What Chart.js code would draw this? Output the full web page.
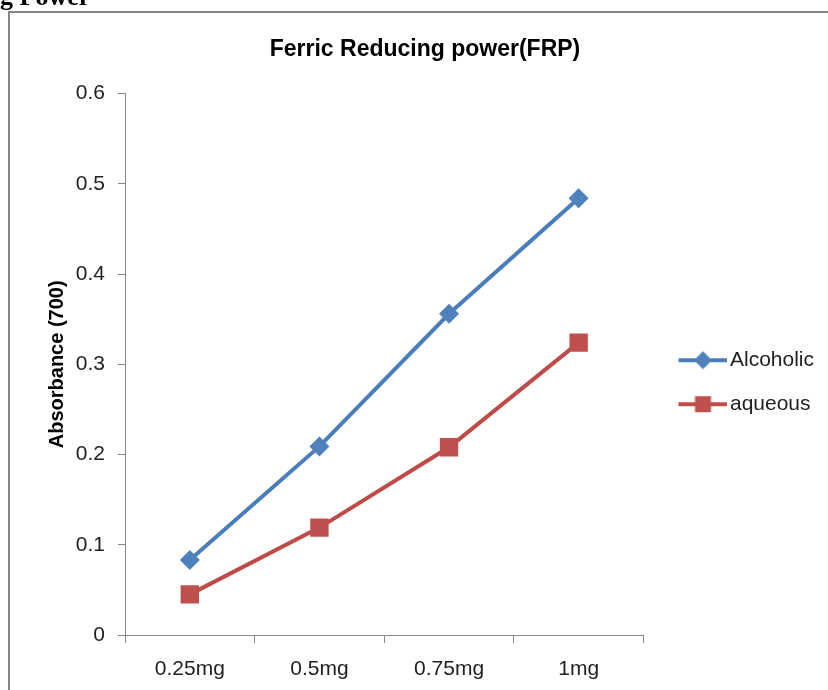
<!DOCTYPE html>
<html>
<head>
<meta charset="utf-8">
<script src="https://cdn.jsdelivr.net/npm/chart.js@4.4.1/dist/chart.umd.min.js"></script>
<style>
    html, body { margin: 0; padding: 0; background: #ffffff; overflow: hidden; }
    #wrap { position: relative; width: 856px; height: 690px; }
    #heading {
        position: absolute; left: 0; top: -16px;
        font: bold 26px/26px "Liberation Serif", "Times New Roman", serif;
        color: #000; white-space: nowrap;
    }
    canvas { position: absolute; left: 0; top: 0; }
</style>
</head>
<body>
<div id="wrap">
    <canvas id="frpChart" width="856" height="690"></canvas>
    <div id="heading">g Power</div>
</div>
<script>
// Chart data
const doses = ['0.25mg', '0.5mg', '0.75mg', '1mg'];
const alcoholic = [0.083, 0.209, 0.356, 0.484];
const aqueous = [0.045, 0.119, 0.208, 0.324];
const yTicks = [0, 0.1, 0.2, 0.3, 0.4, 0.5, 0.6];

const colors = {
    blue: '#4a7ebb',
    blueMarker: '#4f81bd',
    red: '#be4b48',
    redMarker: '#c0504d',
    axis: '#868686',
    text: '#222222'
};

const FONT = '"Liberation Sans", Arial, sans-serif';

// Legend symbol: line with the marker in the middle (Excel style)
function legendSymbol(lineColor, markerColor, shape) {
    const c = document.createElement('canvas');
    c.width = 69;
    c.height = 24;
    const ctx = c.getContext('2d');
    ctx.strokeStyle = lineColor;
    ctx.lineWidth = 4;
    ctx.beginPath();
    ctx.moveTo(20, 12);
    ctx.lineTo(69, 12);
    ctx.stroke();
    ctx.fillStyle = markerColor;
    const cx = 44.5, cy = 12;
    if (shape === 'diamond') {
        ctx.beginPath();
        ctx.moveTo(cx, cy - 9);
        ctx.lineTo(cx + 9, cy);
        ctx.lineTo(cx, cy + 9);
        ctx.lineTo(cx - 9, cy);
        ctx.closePath();
        ctx.fill();
    } else {
        ctx.fillRect(cx - 8, cy - 8, 16, 16);
    }
    return c;
}

const legendIcons = [
    legendSymbol(colors.blue, colors.blueMarker, 'diamond'),
    legendSymbol(colors.red, colors.redMarker, 'square')
];

// Outer chart frame
const framePlugin = {
    id: 'frame',
    beforeDraw(chart) {
        const ctx = chart.ctx;
        ctx.save();
        ctx.strokeStyle = colors.axis;
        ctx.lineWidth = 2;
        ctx.strokeRect(9, 12, chart.width + 20, chart.height + 20);
        ctx.restore();
    }
};

new Chart(document.getElementById('frpChart'), {
    type: 'line',
    data: {
        labels: doses,
        datasets: [{
            label: 'Alcoholic',
            data: alcoholic,
            borderColor: colors.blue,
            backgroundColor: colors.blueMarker,
            borderWidth: 4,
            pointStyle: 'rectRot',
            pointRadius: 10,
            pointBorderWidth: 0,
            pointBackgroundColor: colors.blueMarker,
            tension: 0
        }, {
            label: 'aqueous',
            data: aqueous,
            borderColor: colors.red,
            backgroundColor: colors.redMarker,
            borderWidth: 4,
            pointStyle: 'rect',
            pointRadius: 13,
            pointBorderWidth: 0,
            pointBackgroundColor: colors.redMarker,
            tension: 0
        }]
    },
    options: {
        responsive: false,
        animation: false,
        layout: {
            padding: { left: 26, top: 12, right: 32, bottom: 10 }
        },
        plugins: {
            title: {
                display: true,
                text: 'Ferric Reducing power(FRP)',
                color: '#000000',
                font: { family: FONT, size: 23, weight: 'bold' },
                padding: { top: 24, bottom: 30 }
            },
            legend: {
                position: 'right',
                align: 'center',
                title: { display: true, text: '', padding: 29 },
                labels: {
                    color: colors.text,
                    font: { family: FONT, size: 21 },
                    usePointStyle: true,
                    pointStyleWidth: 53,
                    padding: 23,
                    generateLabels: function(chart) {
                        const items = Chart.defaults.plugins.legend.labels.generateLabels(chart);
                        items.forEach((item, i) => { item.pointStyle = legendIcons[i]; });
                        return items;
                    }
                }
            },
            tooltip: { enabled: false }
        },
        scales: {
            x: {
                offset: true,
                grid: {
                    offset: true,
                    drawOnChartArea: false,
                    drawTicks: true,
                    tickLength: 8,
                    color: colors.axis
                },
                border: { display: true, color: colors.axis, width: 1 },
                ticks: {
                    color: colors.text,
                    font: { family: FONT, size: 21 },
                    padding: 14
                },
                afterFit: function(scale) { scale.height = 45; }
            },
            y: {
                min: 0,
                max: 0.6,
                grid: {
                    drawOnChartArea: false,
                    drawTicks: true,
                    tickLength: 7,
                    color: colors.axis
                },
                border: { display: true, color: colors.axis, width: 1 },
                ticks: {
                    stepSize: 0.1,
                    color: colors.text,
                    font: { family: FONT, size: 21 },
                    padding: 13,
                    callback: function(value) {
                        const v = yTicks.find(t => Math.abs(t - value) < 1e-9);
                        return v === undefined ? '' : String(v);
                    }
                },
                title: {
                    display: true,
                    text: 'Absorbance (700)',
                    color: '#000000',
                    font: { family: FONT, size: 20, weight: 'bold' },
                    padding: { top: 19, bottom: 0 }
                },
                afterFit: function(scale) { scale.width = 99; }
            }
        }
    },
    plugins: [framePlugin]
});
</script>
</body>
</html>
